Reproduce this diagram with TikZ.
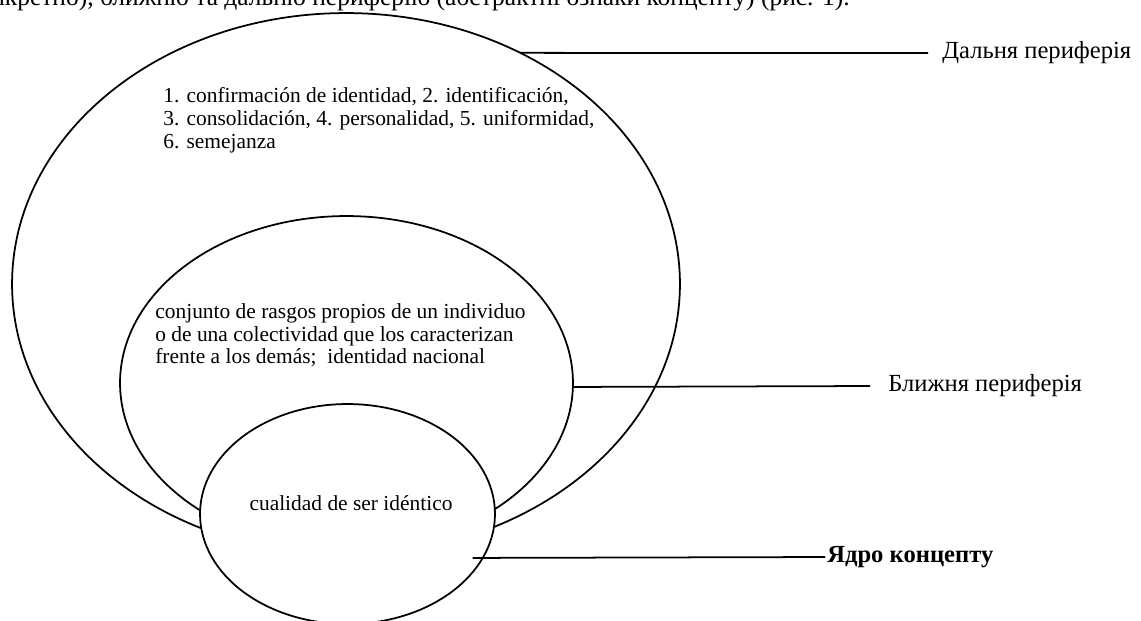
\documentclass[tikz,border=0pt]{standalone}
\usepackage{fontspec}
\setmainfont{Liberation Serif}
\usetikzlibrary{shapes.geometric, positioning, calc}

\begin{document}
\begin{tikzpicture}[x=0.02cm, y=-0.02cm, ring/.style={draw=black, line width=1pt, ellipse, inner sep=0pt, outer sep=0pt}, line/.style={draw=black, line width=1pt}]
% Define styles for rings, texts and labels
\tikzstyle{ringtext} = [align=left, inner sep=0pt, font=\fontsize{12.2}{13}\selectfont]
\tikzstyle{zonelabel} = [inner sep=0pt, font=\fontsize{14}{16}\selectfont]

% Page frame
\useasboundingbox (0,0) rectangle (1141,620);
\clip (0,0) rectangle (1141,620);

% Line of the page above the figure
\node [anchor=base east, inner sep=0pt, font=\fontsize{14.5}{16}\selectfont] (pageline) at (850,5) {конкретно), ближню та дальню периферію (абстрактні ознаки концепту) (рис. 1).};

% Nodes placement
\node [ring, minimum width=13.36cm, minimum height=10.84cm] (far) at (346,284) {};
\node [ring, minimum width=9.06cm, minimum height=6.68cm] (near) at (346.5,383) {};
\node [ring, fill=white, minimum width=5.9cm, minimum height=4.4cm] (core) at (347.5,514) {};

\node [ringtext, anchor=north west] (fartext) at (163,87) {1. confirmación de identidad, 2. identificación,\\3. consolidación, 4. personalidad, 5. uniformidad,\\6. semejanza};
\node [ringtext, anchor=north west] (neartext) at (155,303) {conjunto de rasgos propios de un individuo\\o de una colectividad que los caracterizan\\frente a los demás;\ \ identidad nacional};
\node [ringtext] (coretext) at (351,503) {cualidad de ser idéntico};

\coordinate (farend) at (928,53);
\coordinate (nearend) at (870,386);
\coordinate (coreend) at (825,557);
\node [zonelabel, right=0.28cm of farend] (farlabel) {Дальня периферія};
\node [zonelabel, right=0.36cm of nearend] (nearlabel) {Ближня периферія};
\node [zonelabel, font=\fontsize{14}{16}\selectfont\bfseries, right=0.04cm of coreend] (corelabel) {Ядро концепту};

% Draw edges
\draw [line] (far.53) -- (farend);
\draw [line] (near.-1) -- (nearend);
\draw [line] ([xshift=-0.2cm]core.-18) -- (coreend);

\end{tikzpicture}
\end{document}
